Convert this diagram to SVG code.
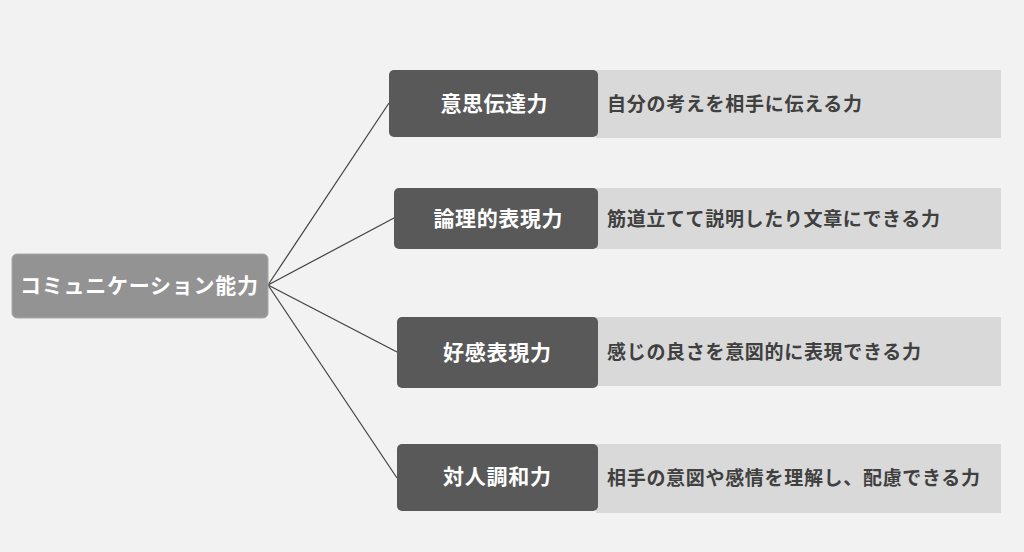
<svg xmlns="http://www.w3.org/2000/svg" width="1024" height="552" viewBox="0 0 1024 552">
<style>
.lbl{font-family:"Noto Sans CJK JP","Noto Sans",sans-serif;font-weight:bold;}
.dark{fill:#595959;}
.light{fill:#d9d9d9;}
.wt{fill:#ffffff;font-size:21px;text-anchor:middle;dominant-baseline:central;}
.dt{fill:#404040;font-size:19px;dominant-baseline:central;}
.conn{stroke:#404040;stroke-width:1.2;fill:none;}
</style>
<rect width="1024" height="552" fill="#f2f2f2"/>
<g id="connectors">
<line class="conn" x1="268" y1="285" x2="389" y2="103"/>
<line class="conn" x1="268" y1="285" x2="394" y2="218"/>
<line class="conn" x1="268" y1="285" x2="397" y2="352"/>
<line class="conn" x1="268" y1="285" x2="397" y2="478"/>
</g>
<g id="center">
<rect x="12" y="254" width="256" height="64" rx="5" fill="#939393" stroke="#a8a8a8" stroke-width="1"/>
<text class="lbl wt" x="139" y="284" textLength="238" lengthAdjust="spacing">コミュニケーション能力</text>
</g>
<g id="node1">
<rect class="light" x="596" y="70" width="405" height="68"/>
<rect class="dark" x="389" y="70" width="209" height="67" rx="5"/>
<text class="lbl wt" x="494" y="102" textLength="107" lengthAdjust="spacing">意思伝達力</text>
<text class="lbl dt" x="607" y="102" textLength="255" lengthAdjust="spacing">自分の考えを相手に伝える力</text>
</g>
<g id="node2">
<rect class="light" x="596" y="188" width="405" height="61"/>
<rect class="dark" x="394" y="188" width="204" height="61" rx="5"/>
<text class="lbl wt" x="498" y="217" textLength="129" lengthAdjust="spacing">論理的表現力</text>
<text class="lbl dt" x="607" y="217" textLength="333" lengthAdjust="spacing">筋道立てて説明したり文章にできる力</text>
</g>
<g id="node3">
<rect class="light" x="596" y="317" width="405" height="69"/>
<rect class="dark" x="397" y="317" width="201" height="71" rx="5"/>
<text class="lbl wt" x="497" y="351" textLength="108" lengthAdjust="spacing">好感表現力</text>
<text class="lbl dt" x="607" y="350" textLength="314" lengthAdjust="spacing">感じの良さを意図的に表現できる力</text>
</g>
<g id="node4">
<rect class="light" x="596" y="444" width="405" height="69"/>
<rect class="dark" x="397" y="444" width="201" height="67" rx="5"/>
<text class="lbl wt" x="497" y="475" textLength="108" lengthAdjust="spacing">対人調和力</text>
<text class="lbl dt" x="607" y="476" textLength="373" lengthAdjust="spacing">相手の意図や感情を理解し、配慮できる力</text>
</g>
</svg>
